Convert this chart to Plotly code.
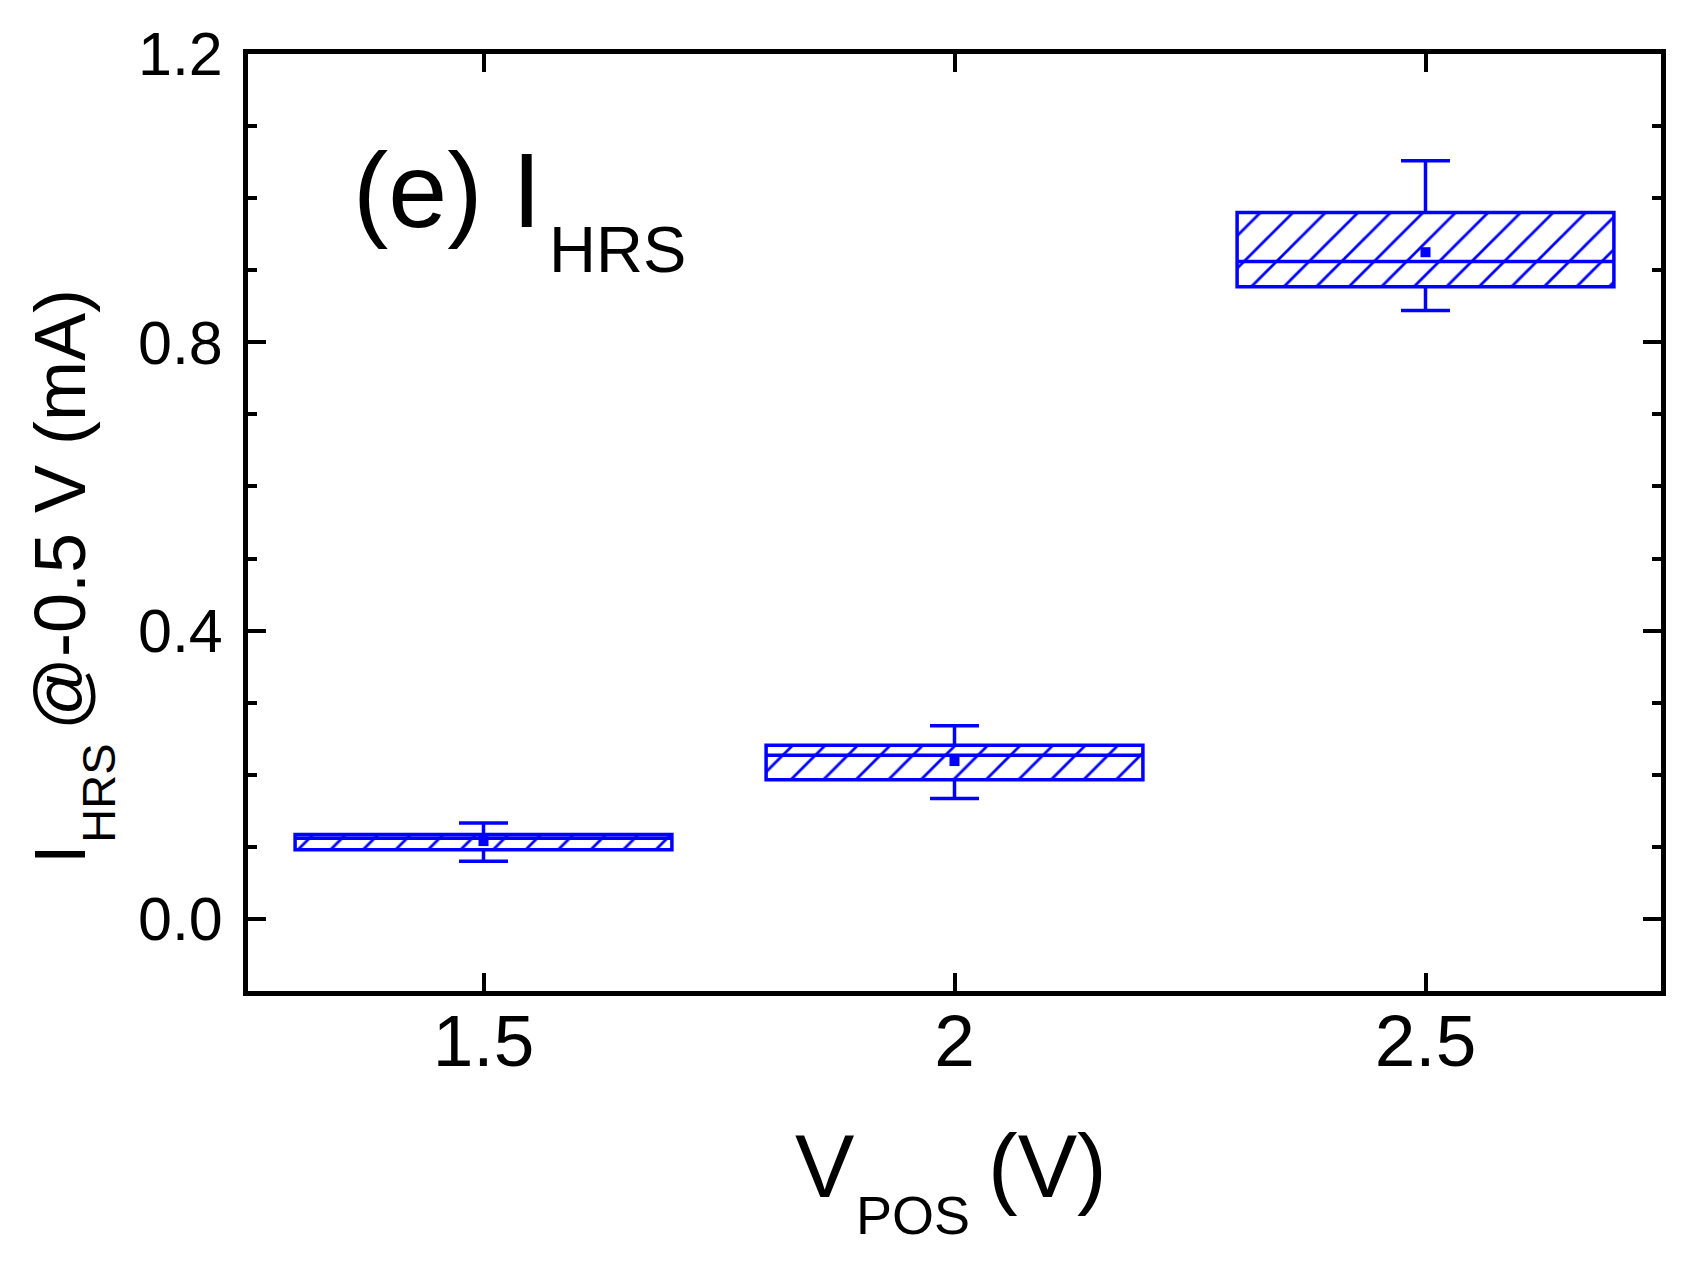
import plotly.graph_objects as go

# Box statistics (mA), one entry per V_POS setting.
v_pos = [1.5, 2.0, 2.5]
q1 = [0.096, 0.193, 0.877]
median = [0.112, 0.227, 0.912]
q3 = [0.117, 0.241, 0.980]
whisker_lo = [0.080, 0.167, 0.844]
whisker_hi = [0.133, 0.268, 1.052]
mean = [0.108, 0.219, 0.925]

x_ticks = [1.5, 2.0, 2.5]
x_ticktext = ["1.5", "2", "2.5"]
y_ticks = [0.0, 0.4, 0.8, 1.2]

BLUE = "#0000FF"
FONT = "Arial, 'Liberation Sans', sans-serif"

# The page body has an 8px margin, so the figure is a bit smaller than the window.
BODY = 8
W, H = 1688 - BODY, 1262 - BODY
M = dict(l=240, r=27, t=38, b=271)  # noqa: C408
PW = W - M["l"] - M["r"]
PH = H - M["t"] - M["b"]


def px(x):
    # page pixel column -> paper x
    return (x - BODY - M["l"]) / PW


def py(y):
    # page pixel row -> paper y
    return (H - M["b"] - (y - BODY)) / PH


fig = go.Figure()

# hatched body of each box
fig.add_trace(
    go.Bar(
        x=v_pos,
        y=[b - a for a, b in zip(q1, q3)],
        base=q1,
        width=0.4,
        marker=dict(  # noqa: C408
            color="white",
            line=dict(width=0),  # noqa: C408
            pattern=dict(  # noqa: C408
                shape="/", fgcolor=BLUE, bgcolor="white", fgopacity=1, size=23, solidity=0.12
            ),
        ),
        hoverinfo="skip",
    )
)

# box outline, median line and whiskers with caps
fig.add_trace(
    go.Box(
        x=v_pos,
        q1=q1,
        median=median,
        q3=q3,
        lowerfence=whisker_lo,
        upperfence=whisker_hi,
        width=0.4,
        whiskerwidth=0.13,
        boxpoints=False,
        line=dict(color=BLUE, width=3.5),  # noqa: C408
        fillcolor="rgba(0,0,0,0)",
    )
)

# mean marker
fig.add_trace(
    go.Scatter(
        x=v_pos,
        y=mean,
        mode="markers",
        marker=dict(symbol="square", size=10, color=BLUE),  # noqa: C408
    )
)

axis_common = dict(  # noqa: C408
    showgrid=False,
    zeroline=False,
    showline=True,
    linecolor="black",
    linewidth=5,
    mirror="ticks",
    ticks="inside",
    ticklen=18,
    tickwidth=4,
    tickcolor="black",
)

fig.update_xaxes(
    range=[1.25, 2.75],
    tickvals=x_ticks,
    ticktext=x_ticktext,
    tickfont=dict(family=FONT, size=73, color="black"),  # noqa: C408
    ticklabelstandoff=-18,
    **axis_common,
)
fig.update_yaxes(
    range=[-0.1, 1.2],
    tickvals=y_ticks,
    tickformat=".1f",
    tickfont=dict(family=FONT, size=61, color="black"),  # noqa: C408
    ticklabelstandoff=8,
    minor=dict(dtick=0.1, tick0=0, ticks="inside", ticklen=9, tickwidth=4, tickcolor="black"),  # noqa: C408
    **axis_common,
)


def label(text, x, y, size, angle=0):
    fig.add_annotation(
        text=text,
        xref="paper",
        yref="paper",
        x=px(x),
        y=py(y),
        xanchor="center",
        yanchor="middle",
        textangle=angle,
        showarrow=False,
        font=dict(family=FONT, size=size, color="black"),  # noqa: C408
    )


# panel label "(e) I_HRS"
label("(e) I", 447, 183, 106)
label("HRS", 617, 243, 65)

# x title "V_POS (V)"
label("V", 824, 1167, 89)
label("POS", 913, 1217, 54)
label("(V)", 1047, 1167, 89)

# y title "I_HRS @-0.5 V (mA)", rotated
label("I", 60, 853, 72, -90)
label("HRS", 99, 792, 47, -90)
label("@-0.5 V (mA)", 60, 506, 72, -90)

fig.update_layout(
    width=W,
    height=H,
    margin=M,
    showlegend=False,
    plot_bgcolor="white",
    paper_bgcolor="white",
    boxmode="overlay",
    barmode="overlay",
)

fig.write_html("out.html")
